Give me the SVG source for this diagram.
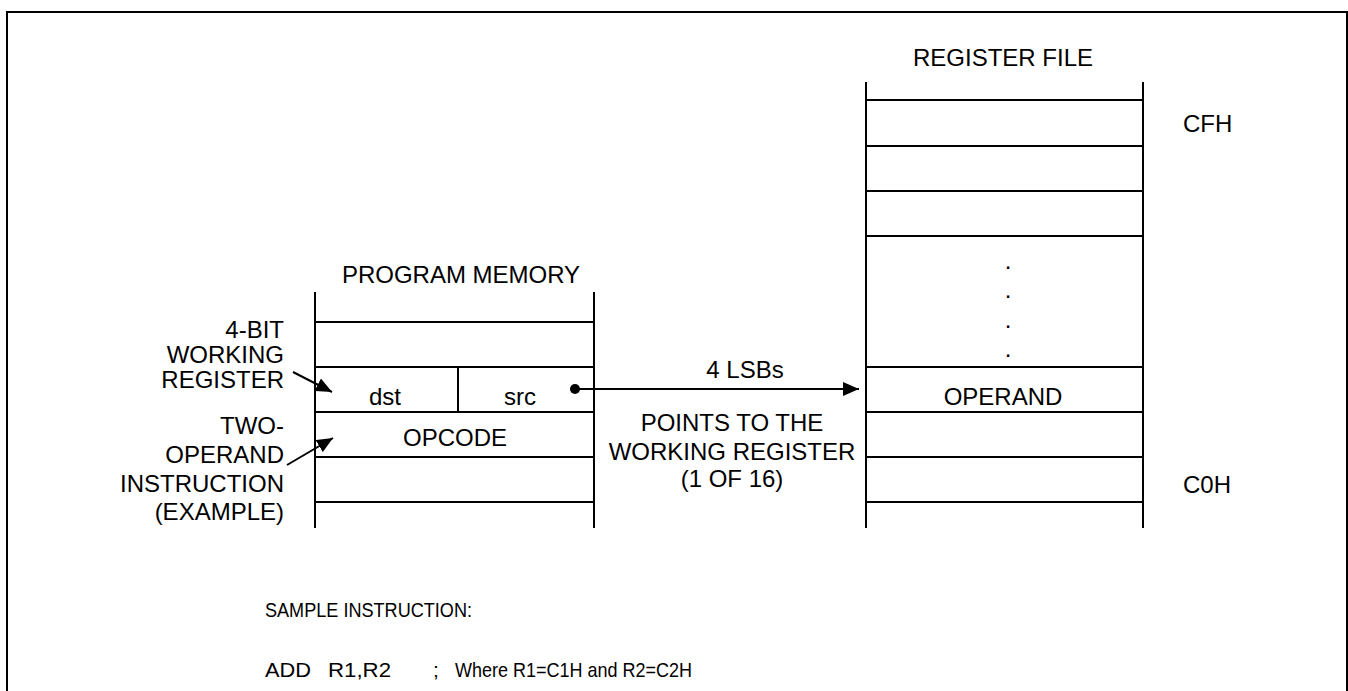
<svg xmlns="http://www.w3.org/2000/svg" width="1348" height="691" viewBox="0 0 1348 691">
  <style>
    .ln { stroke: #000; stroke-width: 2; fill: none; }
    .t { font-family: "Liberation Sans", Arial, sans-serif; font-size: 24px; fill: #000; }
    .m { text-anchor: middle; }
    .r { text-anchor: end; }
    .sm { font-family: "Liberation Sans", Arial, sans-serif; font-size: 21px; fill: #000; }
  </style>
  <defs>
    <marker id="tri" viewBox="0 0 16 14" refX="16" refY="7" markerWidth="16" markerHeight="14" markerUnits="userSpaceOnUse" orient="auto">
      <path d="M0,0 L16,7 L0,14 Z" fill="#000"/>
    </marker>
  </defs>

  <rect width="1348" height="691" fill="#fff"/>

  <!-- outer frame (bottom edge runs past the page) -->
  <path class="ln" d="M7,700 V12 H1347 V700"/>

  <!-- program memory column -->
  <g id="program-memory">
    <text class="t m" x="461" y="283">PROGRAM MEMORY</text>
    <path class="ln" d="M315,292 V528 M594,292 V528"/>
    <path class="ln" d="M315,322 H594 M315,367 H594 M315,412 H594 M315,457 H594 M315,502 H594"/>
    <path class="ln" d="M458,367 V412"/>
    <text class="t m" x="385" y="405">dst</text>
    <text class="t m" x="520" y="405">src</text>
    <text class="t m" x="455" y="446">OPCODE</text>
  </g>

  <!-- register file column -->
  <g id="register-file">
    <text class="t m" x="1003" y="66">REGISTER FILE</text>
    <path class="ln" d="M866,82 V528 M1143,82 V528"/>
    <path class="ln" d="M866,100 H1143 M866,146 H1143 M866,191 H1143 M866,236 H1143 M866,367 H1143 M866,412 H1143 M866,457 H1143 M866,502 H1143"/>
    <text class="t m" x="1008" y="269">.</text>
    <text class="t m" x="1008" y="298">.</text>
    <text class="t m" x="1008" y="328">.</text>
    <text class="t m" x="1008" y="357">.</text>
    <text class="t m" x="1003" y="405">OPERAND</text>
    <text class="t" x="1183" y="132">CFH</text>
    <text class="t" x="1183" y="493">C0H</text>
  </g>

  <!-- side labels -->
  <g id="working-register-label">
    <text class="t r" x="284" y="338">4-BIT</text>
    <text class="t r" x="284" y="363">WORKING</text>
    <text class="t r" x="284" y="388">REGISTER</text>
  </g>
  <g id="instruction-label">
    <text class="t r" x="284" y="434">TWO-</text>
    <text class="t r" x="284" y="463">OPERAND</text>
    <text class="t r" x="284" y="492">INSTRUCTION</text>
    <text class="t r" x="284" y="520">(EXAMPLE)</text>
  </g>
  <g id="pointer-label">
    <text class="t m" x="745" y="378">4 LSBs</text>
    <text class="t m" x="732" y="431">POINTS TO THE</text>
    <text class="t m" x="732" y="460">WORKING REGISTER</text>
    <text class="t m" x="732" y="487">(1 OF 16)</text>
  </g>

  <!-- connectors -->
  <g id="connectors">
    <circle cx="575" cy="389" r="5" fill="#000"/>
    <line class="ln" x1="575" y1="389" x2="859" y2="389" marker-end="url(#tri)"/>
    <line class="ln" x1="293" y1="372" x2="332" y2="392" marker-end="url(#tri)"/>
    <line class="ln" x1="287" y1="465" x2="333" y2="438" marker-end="url(#tri)"/>
  </g>

  <!-- sample instruction note -->
  <g id="sample-note">
    <text class="sm" x="265" y="617" textLength="207" lengthAdjust="spacingAndGlyphs">SAMPLE INSTRUCTION:</text>
    <text class="sm" x="265" y="677" textLength="46" lengthAdjust="spacingAndGlyphs">ADD</text>
    <text class="sm" x="328" y="677" textLength="63" lengthAdjust="spacingAndGlyphs">R1,R2</text>
    <text class="sm" x="433" y="677">;</text>
    <text class="sm" x="455" y="677" textLength="237" lengthAdjust="spacingAndGlyphs">Where R1=C1H and R2=C2H</text>
  </g>
</svg>
